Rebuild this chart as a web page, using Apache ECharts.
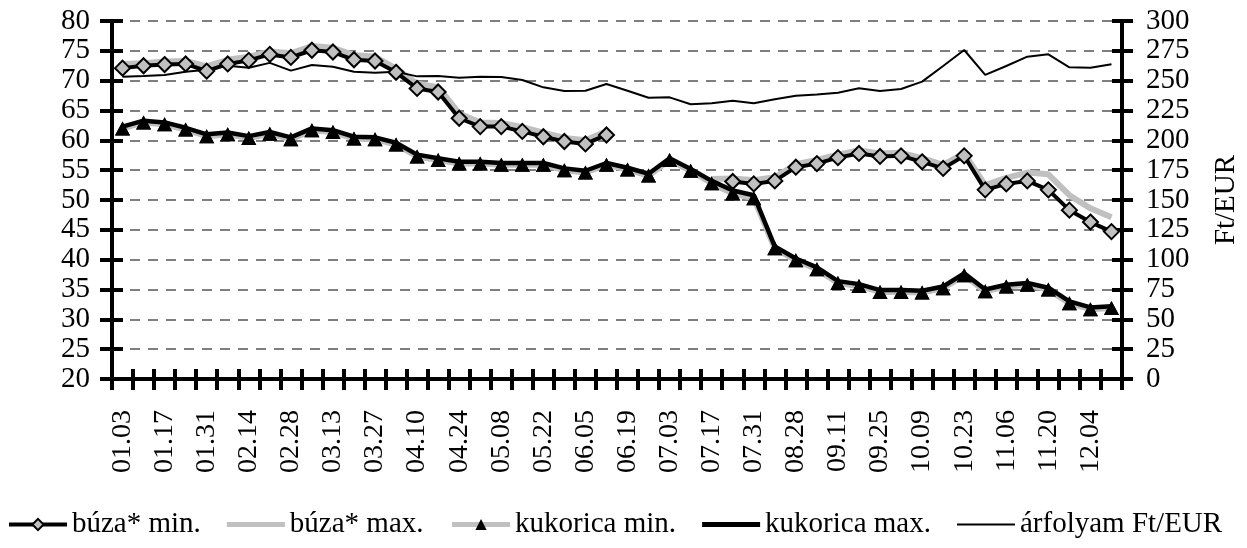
<!DOCTYPE html>
<html>
<head>
<meta charset="utf-8">
<script src="https://cdn.jsdelivr.net/npm/echarts@6/dist/echarts.min.js"></script>
<style>
	html, body { margin: 0; padding: 0; background: #fff; }
	#chart { width: 1247px; height: 548px; }
</style>
</head>
<body>
<div id="chart"></div>
<script>
// heti dátumok
const dates = [
	'01.03', '01.10', '01.17', '01.24', '01.31', '02.07', '02.14', '02.21', '02.28', '03.06',
	'03.13', '03.20', '03.27', '04.03', '04.10', '04.17', '04.24', '05.01', '05.08', '05.15',
	'05.22', '05.29', '06.05', '06.12', '06.19', '06.26', '07.03', '07.10', '07.17', '07.24',
	'07.31', '08.14', '08.28', '09.04', '09.11', '09.18', '09.25', '10.02', '10.09', '10.16',
	'10.23', '10.30', '11.06', '11.13', '11.20', '11.27', '12.04', '12.11'
];

const buzaMin = [
	72.1, 72.5, 72.7, 72.8, 71.6, 72.8, 73.4, 74.4, 73.9, 75.1,
	74.8, 73.5, 73.3, 71.4, 68.7, 68.1, 63.7, 62.3, 62.3, 61.5,
	60.6, 59.8, 59.4, 60.9, null, null, null, null, null, 53.1,
	52.7, 53.2, 55.5, 56.1, 57.1, 57.8, 57.3, 57.4, 56.4, 55.3,
	57.4, 51.7, 52.7, 53.2, 51.7, 48.3, 46.3, 44.7
];

const buzaMax = [
	72.8, 72.9, 73.2, 73.3, 72.4, 73.5, 74.0, 74.9, 74.6, 75.8,
	75.5, 74.3, 74.0, 72.0, 69.5, 68.9, 64.5, 63.0, 62.9, 62.2,
	61.3, 60.4, 60.0, 61.5, null, null, null, null, 53.5, 53.6,
	53.3, 53.8, 56.0, 56.7, 57.6, 58.3, 57.8, 57.9, 57.0, 55.9,
	57.8, 52.5, 53.7, 54.6, 54.3, 50.8, 48.6, 47.1
];

const kukMin = [
	62.0, 63.0, 62.7, 61.8, 60.7, 61.0, 60.4, 61.1, 60.2, 61.7,
	61.4, 60.3, 60.2, 59.3, 57.3, 56.7, 56.1, 56.1, 55.9, 55.9,
	55.9, 55.0, 54.6, 55.9, 55.1, 54.1, 56.7, 54.9, 52.8, 51.1,
	50.3, 41.9, 39.9, 38.4, 36.1, 35.6, 34.6, 34.6, 34.5, 35.2,
	37.4, 34.7, 35.5, 35.8, 35.0, 32.7, 31.7, 31.9
];

const kukMax = [
	62.3, 63.3, 63.0, 62.1, 61.0, 61.3, 60.7, 61.4, 60.5, 62.0,
	61.7, 60.6, 60.5, 59.6, 57.6, 57.0, 56.4, 56.4, 56.2, 56.2,
	56.2, 55.3, 54.9, 56.2, 55.4, 54.4, 57.0, 55.2, 53.2, 51.6,
	50.8, 42.2, 40.2, 38.7, 36.4, 35.9, 34.9, 34.9, 34.8, 35.5,
	37.7, 35.0, 35.8, 36.1, 35.3, 33.0, 32.0, 32.2
];

const arfolyam = [
	253.3, 254.0, 254.8, 257.5, 259.2, 262.4, 260.9, 264.9, 258.4, 263.1,
	261.7, 257.5, 256.7, 257.5, 253.6, 253.9, 252.5, 253.3, 253.1, 250.6,
	244.4, 241.4, 241.6, 247.2, 241.6, 235.7, 236.0, 230.2, 231.0, 233.2,
	231.0, 234.4, 237.4, 238.5, 239.9, 243.6, 241.3, 243.0, 249.2, 262.3,
	275.7, 254.8, 262.3, 270.1, 272.1, 261.2, 260.9, 263.7
];

const font = 'Liberation Serif';
const gray = '#c0c0c0';
const tick = { color: '#000', width: 4 };

const chart = echarts.init(document.getElementById('chart'));

// a tengelyjelek keresztezik a tengelyt: a befelé eső felüket egy eltolt, üres tengely rajzolja
const option = {
	animation: false,
	backgroundColor: '#fff',
	textStyle: { fontFamily: font, color: '#000' },
	grid: { left: 112, right: 125, top: 21, bottom: 169, outerBoundsMode: 'none', containLabel: false },
	legend: {
		data: [
			{ name: 'búza* min.', lineStyle: { width: 4 } },
			{ name: 'búza* max.', icon: 'path://M0,0H58V5H0Z' },
			{ name: 'kukorica min.', lineStyle: { width: 5 } },
			{ name: 'kukorica max.', icon: 'path://M0,0H58V5H0Z' },
			{ name: 'árfolyam Ft/EUR', icon: 'path://M0,0H58V2H0Z' }
		],
		left: 2,
		top: 505,
		itemWidth: 58,
		itemHeight: 14,
		itemGap: 26,
		textStyle: { fontFamily: font, fontSize: 29, color: '#000' }
	},
	xAxis: [
		{
			type: 'category',
			data: dates,
			boundaryGap: true,
			position: 'bottom',
			axisLine: { show: true, lineStyle: { color: '#000', width: 4 } },
			axisTick: { show: true, interval: 0, length: 11, lineStyle: tick },
			axisLabel: {
				interval: 1, rotate: 90, margin: 31,
				fontFamily: font, fontSize: 28, color: '#000'
			}
		},
		{
			type: 'category',
			data: dates,
			boundaryGap: true,
			position: 'bottom',
			offset: -10,
			axisLine: { show: false },
			axisTick: { show: true, interval: 0, length: 10, lineStyle: tick },
			axisLabel: { show: false }
		}
	],
	yAxis: [
		{
			type: 'value', min: 20, max: 80, interval: 5, position: 'left',
			axisLine: { show: true, lineStyle: { color: '#000', width: 4 } },
			axisTick: { show: true, length: 12, lineStyle: tick },
			axisLabel: { margin: 22, fontFamily: font, fontSize: 29, color: '#000' },
			splitLine: { show: true, lineStyle: { color: '#555', width: 1.5, type: [10, 8] } }
		},
		{
			type: 'value', min: 0, max: 300, interval: 25, position: 'right',
			name: 'Ft/EUR',
			nameLocation: 'middle',
			nameRotate: 90,
			nameGap: 90,
			nameTextStyle: { fontFamily: font, fontSize: 29, color: '#000' },
			axisLine: { show: true, lineStyle: { color: '#000', width: 4 } },
			axisTick: { show: true, length: 11, lineStyle: tick },
			axisLabel: { margin: 24, fontFamily: font, fontSize: 29, color: '#000' },
			splitLine: { show: false }
		},
		{
			type: 'value', min: 20, max: 80, interval: 5, position: 'left',
			offset: -11,
			axisLine: { show: false },
			axisTick: { show: true, length: 11, lineStyle: tick },
			axisLabel: { show: false },
			splitLine: { show: false }
		},
		{
			type: 'value', min: 0, max: 300, interval: 25, position: 'right',
			offset: -10,
			axisLine: { show: false },
			axisTick: { show: true, length: 10, lineStyle: tick },
			axisLabel: { show: false },
			splitLine: { show: false }
		}
	],
	series: [
		{
			name: 'búza* min.',
			type: 'line',
			data: buzaMin,
			z: 4,
			symbol: 'diamond',
			symbolSize: [15, 15],
			showAllSymbol: true,
			itemStyle: { color: gray, borderColor: '#000', borderWidth: 2 },
			lineStyle: { color: '#000', width: 4 }
		},
		{
			name: 'búza* max.',
			type: 'line',
			data: buzaMax,
			z: 3,
			symbol: 'none',
			itemStyle: { color: gray },
			lineStyle: { color: gray, width: 6 }
		},
		{
			name: 'kukorica min.',
			type: 'line',
			data: kukMin,
			z: 2,
			symbol: 'triangle',
			symbolSize: [15, 14],
			showAllSymbol: true,
			itemStyle: { color: '#000' },
			lineStyle: { color: gray, width: 6 }
		},
		{
			name: 'kukorica max.',
			type: 'line',
			data: kukMax,
			z: 3,
			symbol: 'none',
			itemStyle: { color: '#000' },
			lineStyle: { color: '#000', width: 4.5 }
		},
		{
			// a háromszög jelek a fekete vonal fölé kerülnek
			name: 'kukorica min. jel',
			type: 'line',
			data: kukMin,
			z: 5,
			silent: true,
			symbol: 'triangle',
			symbolSize: [15, 14],
			showAllSymbol: true,
			itemStyle: { color: '#000' },
			lineStyle: { width: 0, opacity: 0 }
		},
		{
			name: 'árfolyam Ft/EUR',
			type: 'line',
			data: arfolyam,
			yAxisIndex: 1,
			z: 4,
			symbol: 'none',
			itemStyle: { color: '#000' },
			lineStyle: { color: '#000', width: 2 }
		}
	]
};

chart.setOption(option);
</script>
</body>
</html>
